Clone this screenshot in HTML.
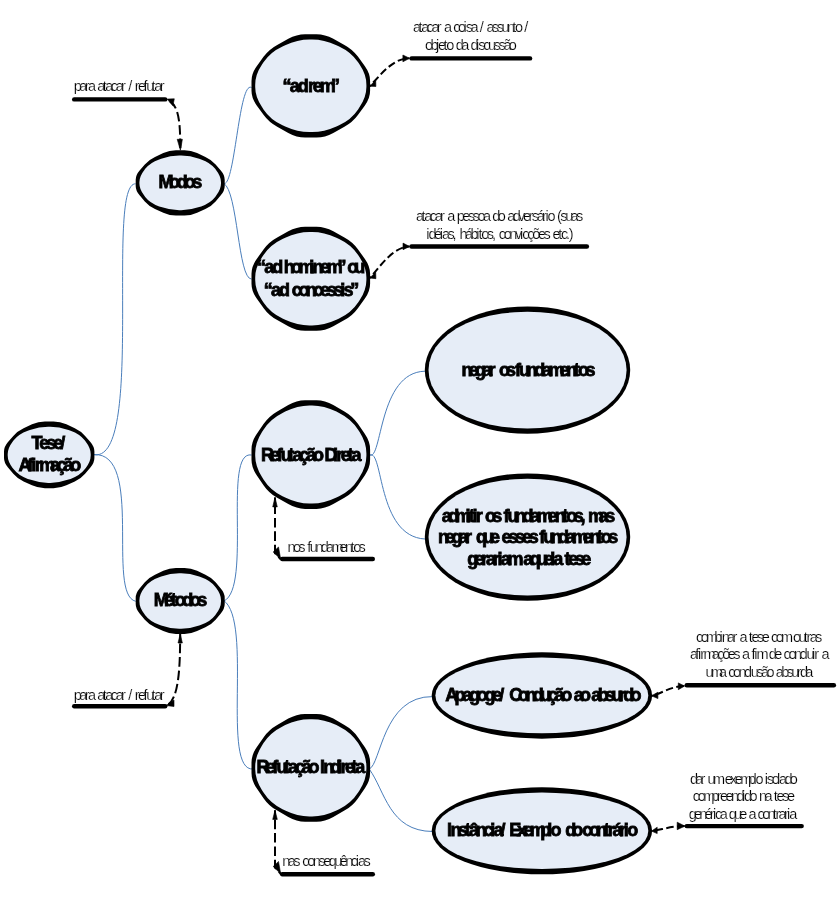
<!DOCTYPE html>
<html lang="pt-BR">
<head>
<meta charset="utf-8">
<title>Tese / Afirmação — modos e métodos de refutação</title>
<style>
html,body{margin:0;padding:0;background:#fff;}
body{width:838px;height:901px;overflow:hidden;}
svg{display:block;}
text{font-family:"Liberation Sans",Arial,Helvetica,sans-serif;fill:#000;font-kerning:none;font-variant-ligatures:none;white-space:pre;}
svg{will-change:transform;}
.tx{filter:grayscale(1);}
.b{font-weight:bold;font-size:18px;stroke:#000;stroke-width:.8px;}
.r{font-weight:normal;font-size:14.5px;stroke:#fff;stroke-width:.18px;}
.no{fill:#000;}
.ni{fill:#e6edf7;}
.c{fill:none;stroke:#4a7ebb;stroke-width:1;}
.d{fill:none;stroke:#000;stroke-width:2;}
.h{fill:#000;stroke:#000;stroke-width:.6;stroke-linejoin:round;}
.bar{stroke:#000;stroke-width:4.4;stroke-linecap:round;}
</style>
</head>
<body>
<svg width="838" height="901" viewBox="0 0 838 901">
<rect width="838" height="901" fill="#fff"/>
<path class="c" d="M93.9,454.7 C145.2,462.9 105.3,183.0 135.6,183.8"/>
<path class="c" d="M93.9,454.6 C144.1,452.1 106.1,594.4 135.7,601.3"/>
<path class="c" d="M223.6,183.5 C234.9,188.1 238.8,79.7 251.6,87.6"/>
<path class="c" d="M223.6,183.3 C237.9,190.8 237.9,279.1 251.6,279.1"/>
<path class="c" d="M224.0,601.0 C252.0,587.2 222.4,449.9 251.6,455.0"/>
<path class="c" d="M223.7,600.5 C253.2,621.4 220.7,771.7 253.2,769.0"/>
<path class="c" d="M369.4,455.0 C382.4,461.7 378.0,372.2 425.0,371.2"/>
<path class="c" d="M369.4,455.0 C383.7,448.1 376.6,536.5 425.0,539.0"/>
<path class="c" d="M369.2,769.0 C381.0,764.6 382.6,695.9 432.7,696.6"/>
<path class="c" d="M369.2,769.0 C385.1,790.8 389.0,831.2 432.7,831.5"/>
<path class="d" d="M167,99.5 C180,105 180,124 180.4,150" stroke-dasharray="9.6 3.8" stroke-dashoffset="10.2"/>
<path class="d" d="M180.2,634 C180,660 180,700 166.5,705.5" stroke-dasharray="9.6 3.8" stroke-dashoffset="3.8"/>
<path class="d" d="M369.7,86.2 C380,76 392,58.3 409.4,58.25" stroke-dasharray="7.5 3.4" stroke-dashoffset="5.6"/>
<path class="d" d="M369.7,278 C379,268 393,246.5 409.4,246.5" stroke-dasharray="7.5 3.4" stroke-dashoffset="5.6"/>
<path class="d" d="M275,497.5 L275,553 L280.7,559.3" stroke-dasharray="9.6 3.8" stroke-dashoffset="6.4"/>
<path class="d" d="M275,810.3 L275,867.5 L280.7,873.8" stroke-dasharray="9.6 3.8" stroke-dashoffset="4.1"/>
<path class="d" d="M651.5,695.8 C662,693.5 670,686.5 684.4,686" stroke-dasharray="7.5 3.4" stroke-dashoffset="6.3"/>
<path class="d" d="M651.5,831.1 C662,830 668,826.3 684.7,826.1" stroke-dasharray="7.5 3.4" stroke-dashoffset="6.7"/>
<polygon class="h" points="167.1,99.1 174.3,98.8 172.9,105.8"/>
<polygon class="h" points="177.2,139.3 182.4,139.3 180.4,150.3"/>
<polygon class="h" points="369.7,86.2 375.7,80.1 375.9,86.5"/>
<polygon class="h" points="402.9,55 409.6,58.3 402.9,61.8"/>
<polygon class="h" points="369.7,278 375.7,272.2 375.9,278.7"/>
<polygon class="h" points="403,243.1 409.6,246.5 403,249.7"/>
<polygon class="h" points="275,497.3 277.3,506.9 272.7,506.9"/>
<polygon class="h" points="280.7,559.3 273.2,552 278.5,547"/>
<polygon class="h" points="275,810.3 277.3,819.4 272.7,819.4"/>
<polygon class="h" points="280.7,873.8 273.2,866.5 278.5,861.5"/>
<polygon class="h" points="180.2,634 182.4,643 178,643"/>
<polygon class="h" points="166,705.5 174,700 174,706.5"/>
<polygon class="h" points="651.5,695.8 657.9,692.2 657.9,698.6"/>
<polygon class="h" points="678.3,682.9 684.6,686 678.3,689.7"/>
<polygon class="h" points="651.5,831.1 657.2,827.2 657.2,833.6"/>
<polygon class="h" points="677.2,822.2 684.9,826.1 677.2,829.7"/>
<path class="no" d="M94.4,451.6 Q94.4,446.8 90.4,442.1 L85.1,435.9 Q81.2,431.2 74.8,428.2 L66.4,424.3 Q60.1,421.4 53.5,421.4 L44.9,421.4 Q38.3,421.4 32.0,424.3 L23.6,428.2 Q17.2,431.2 13.3,435.9 L8.0,442.1 Q4.0,446.8 4.0,451.6 L4.0,458.0 Q4.0,462.8 8.0,467.5 L13.3,473.7 Q17.2,478.4 23.6,481.4 L32.0,485.3 Q38.3,488.2 44.9,488.2 L53.5,488.2 Q60.1,488.2 66.4,485.3 L74.8,481.4 Q81.2,478.4 85.1,473.7 L90.4,467.5 Q94.4,462.8 94.4,458.0Z"/><path class="ni" d="M90.7,454.1 Q90.7,448.1 85.8,441.7 L84.7,440.3 Q79.9,434.0 70.6,430.7 L68.5,430.0 Q59.2,426.7 50.2,426.7 L48.2,426.7 Q39.2,426.7 29.9,430.0 L27.8,430.7 Q18.5,434.0 13.7,440.3 L12.6,441.7 Q7.7,448.1 7.7,454.1 L7.7,455.5 Q7.7,461.5 12.6,467.9 L13.7,469.3 Q18.5,475.6 27.8,478.9 L29.9,479.6 Q39.2,482.9 48.2,482.9 L50.2,482.9 Q59.2,482.9 68.5,479.6 L70.6,478.9 Q79.9,475.6 84.7,469.3 L85.8,467.9 Q90.7,461.5 90.7,455.5Z"/>
<path class="no" d="M224.7,179.8 Q224.7,175.0 220.8,170.5 L215.6,164.4 Q211.7,159.8 205.4,156.9 L197.1,153.1 Q190.9,150.2 184.5,150.2 L175.9,150.2 Q169.5,150.2 163.3,153.1 L155.0,156.9 Q148.7,159.8 144.8,164.4 L139.6,170.5 Q135.7,175.0 135.7,179.8 L135.7,186.0 Q135.7,190.8 139.6,195.3 L144.8,201.4 Q148.7,206.0 155.0,208.9 L163.3,212.7 Q169.5,215.6 175.9,215.6 L184.5,215.6 Q190.9,215.6 197.1,212.7 L205.4,208.9 Q211.7,206.0 215.6,201.4 L220.8,195.3 Q224.7,190.8 224.7,186.0Z"/><path class="ni" d="M221.0,182.2 Q221.0,176.3 216.2,170.2 L215.2,168.8 Q210.4,162.6 201.2,159.4 L199.2,158.7 Q190.0,155.5 181.2,155.5 L179.2,155.5 Q170.4,155.5 161.2,158.7 L159.2,159.4 Q150.0,162.6 145.2,168.8 L144.2,170.2 Q139.4,176.3 139.4,182.2 L139.4,183.6 Q139.4,189.5 144.2,195.6 L145.2,197.0 Q150.0,203.2 159.2,206.4 L161.2,207.1 Q170.4,210.3 179.2,210.3 L181.2,210.3 Q190.0,210.3 199.2,207.1 L201.2,206.4 Q210.4,203.2 215.2,197.0 L216.2,195.6 Q221.0,189.5 221.0,183.6Z"/>
<path class="no" d="M224.7,597.8 Q224.7,593.0 220.8,588.4 L215.6,582.2 Q211.7,577.6 205.4,574.7 L197.1,570.8 Q190.9,567.9 184.5,567.9 L175.9,567.9 Q169.5,567.9 163.3,570.8 L155.0,574.7 Q148.7,577.6 144.8,582.2 L139.6,588.4 Q135.7,593.0 135.7,597.8 L135.7,604.1 Q135.7,608.9 139.6,613.5 L144.8,619.7 Q148.7,624.3 155.0,627.2 L163.3,631.1 Q169.5,634.0 175.9,634.0 L184.5,634.0 Q190.9,634.0 197.1,631.1 L205.4,627.2 Q211.7,624.3 215.6,619.7 L220.8,613.5 Q224.7,608.9 224.7,604.1Z"/><path class="ni" d="M221.0,600.3 Q221.0,594.3 216.2,588.1 L215.2,586.7 Q210.4,580.4 201.2,577.2 L199.2,576.5 Q190.0,573.2 181.2,573.2 L179.2,573.2 Q170.4,573.2 161.2,576.5 L159.2,577.2 Q150.0,580.4 145.2,586.7 L144.2,588.1 Q139.4,594.3 139.4,600.3 L139.4,601.6 Q139.4,607.6 144.2,613.8 L145.2,615.2 Q150.0,621.5 159.2,624.7 L161.2,625.4 Q170.4,628.7 179.2,628.7 L181.2,628.7 Q190.0,628.7 199.2,625.4 L201.2,624.7 Q210.4,621.5 215.2,615.2 L216.2,613.8 Q221.0,607.6 221.0,601.6Z"/>
<path class="no" d="M370.1,80.9 Q370.1,73.5 364.9,66.3 L357.9,56.6 Q352.7,49.4 344.4,44.9 L333.3,38.8 Q325.0,34.3 316.5,34.3 L305.1,34.3 Q296.6,34.3 288.3,38.8 L277.2,44.9 Q268.9,49.4 263.7,56.6 L256.7,66.3 Q251.5,73.5 251.5,80.9 L251.5,90.8 Q251.5,98.2 256.7,105.4 L263.7,115.1 Q268.9,122.3 277.2,126.8 L288.3,132.9 Q296.6,137.4 305.1,137.4 L316.5,137.4 Q325.0,137.4 333.3,132.9 L344.4,126.8 Q352.7,122.3 357.9,115.1 L364.9,105.4 Q370.1,98.2 370.1,90.8Z"/><path class="ni" d="M366.4,84.7 Q366.4,74.7 359.6,64.6 L358.1,62.3 Q351.3,52.1 339.1,46.5 L336.4,45.2 Q324.1,39.6 312.1,39.6 L309.5,39.6 Q297.5,39.6 285.2,45.2 L282.5,46.5 Q270.3,52.1 263.5,62.3 L262.0,64.6 Q255.2,74.7 255.2,84.7 L255.2,87.0 Q255.2,97.0 262.0,107.1 L263.5,109.4 Q270.3,119.6 282.5,125.2 L285.2,126.5 Q297.5,132.1 309.5,132.1 L312.1,132.1 Q324.1,132.1 336.4,126.5 L339.1,125.2 Q351.3,119.6 358.1,109.4 L359.6,107.1 Q366.4,97.0 366.4,87.0Z"/>
<path class="no" d="M370.1,273.8 Q370.1,266.3 364.9,259.0 L357.9,249.2 Q352.7,241.9 344.4,237.4 L333.3,231.3 Q325.0,226.7 316.5,226.7 L305.1,226.7 Q296.6,226.7 288.3,231.3 L277.2,237.4 Q268.9,241.9 263.7,249.2 L256.7,259.0 Q251.5,266.3 251.5,273.8 L251.5,283.7 Q251.5,291.2 256.7,298.5 L263.7,308.3 Q268.9,315.6 277.2,320.1 L288.3,326.2 Q296.6,330.8 305.1,330.8 L316.5,330.8 Q325.0,330.8 333.3,326.2 L344.4,320.1 Q352.7,315.6 357.9,308.3 L364.9,298.5 Q370.1,291.2 370.1,283.7Z"/><path class="ni" d="M366.4,277.6 Q366.4,267.5 359.6,257.2 L358.1,255.0 Q351.3,244.7 339.1,239.0 L336.4,237.7 Q324.1,232.0 312.1,232.0 L309.5,232.0 Q297.5,232.0 285.2,237.7 L282.5,239.0 Q270.3,244.7 263.5,255.0 L262.0,257.2 Q255.2,267.5 255.2,277.6 L255.2,279.9 Q255.2,290.0 262.0,300.3 L263.5,302.5 Q270.3,312.8 282.5,318.5 L285.2,319.8 Q297.5,325.5 309.5,325.5 L312.1,325.5 Q324.1,325.5 336.4,319.8 L339.1,318.5 Q351.3,312.8 358.1,302.5 L359.6,300.3 Q366.4,290.0 366.4,279.9Z"/>
<path class="no" d="M370.1,449.4 Q370.1,441.6 364.9,434.0 L357.9,423.8 Q352.7,416.2 344.4,411.4 L333.3,405.1 Q325.0,400.3 316.5,400.3 L305.1,400.3 Q296.6,400.3 288.3,405.1 L277.2,411.4 Q268.9,416.2 263.7,423.8 L256.7,434.0 Q251.5,441.6 251.5,449.4 L251.5,459.8 Q251.5,467.6 256.7,475.2 L263.7,485.4 Q268.9,493.0 277.2,497.8 L288.3,504.1 Q296.6,508.9 305.1,508.9 L316.5,508.9 Q325.0,508.9 333.3,504.1 L344.4,497.8 Q352.7,493.0 357.9,485.4 L364.9,475.2 Q370.1,467.6 370.1,459.8Z"/><path class="ni" d="M366.4,453.4 Q366.4,442.8 359.6,432.1 L358.1,429.7 Q351.3,418.9 339.1,412.9 L336.4,411.6 Q324.1,405.6 312.1,405.6 L309.5,405.6 Q297.5,405.6 285.2,411.6 L282.5,412.9 Q270.3,418.9 263.5,429.7 L262.0,432.1 Q255.2,442.8 255.2,453.4 L255.2,455.8 Q255.2,466.4 262.0,477.1 L263.5,479.5 Q270.3,490.3 282.5,496.3 L285.2,497.6 Q297.5,503.6 309.5,503.6 L312.1,503.6 Q324.1,503.6 336.4,497.6 L339.1,496.3 Q351.3,490.3 358.1,479.5 L359.6,477.1 Q366.4,466.4 366.4,455.8Z"/>
<path class="no" d="M370.1,762.6 Q370.1,754.9 364.9,747.3 L357.9,737.2 Q352.7,729.7 344.4,725.0 L333.3,718.6 Q325.0,713.9 316.5,713.9 L305.1,713.9 Q296.6,713.9 288.3,718.6 L277.2,725.0 Q268.9,729.7 263.7,737.2 L256.7,747.3 Q251.5,754.9 251.5,762.6 L251.5,773.0 Q251.5,780.7 256.7,788.3 L263.7,798.4 Q268.9,805.9 277.2,810.6 L288.3,817.0 Q296.6,821.7 305.1,821.7 L316.5,821.7 Q325.0,821.7 333.3,817.0 L344.4,810.6 Q352.7,805.9 357.9,798.4 L364.9,788.3 Q370.1,780.7 370.1,773.0Z"/><path class="ni" d="M366.4,766.6 Q366.4,756.1 359.6,745.4 L358.1,743.1 Q351.3,732.4 339.1,726.4 L336.4,725.1 Q324.1,719.2 312.1,719.2 L309.5,719.2 Q297.5,719.2 285.2,725.1 L282.5,726.4 Q270.3,732.4 263.5,743.1 L262.0,745.4 Q255.2,756.1 255.2,766.6 L255.2,769.0 Q255.2,779.5 262.0,790.2 L263.5,792.5 Q270.3,803.2 282.5,809.2 L285.2,810.5 Q297.5,816.4 309.5,816.4 L312.1,816.4 Q324.1,816.4 336.4,810.5 L339.1,809.2 Q351.3,803.2 358.1,792.5 L359.6,790.2 Q366.4,779.5 366.4,769.0Z"/>
<ellipse class="no" cx="527.5" cy="370.1" rx="102.7" ry="63.7"/><path class="ni" d="M626.6,370.1 L625.8,362.5 L623.5,354.9 L619.6,347.6 L614.0,340.7 L606.9,334.2 L598.4,328.3 L588.5,323.3 L577.5,319.1 L565.7,315.8 L553.3,313.5 L540.5,312.2 L527.5,311.7 L514.6,312.2 L501.8,313.5 L489.4,315.8 L477.6,319.1 L466.6,323.3 L456.7,328.3 L448.2,334.2 L441.1,340.7 L435.5,347.6 L431.6,354.9 L429.3,362.5 L428.5,370.1 L429.3,377.7 L431.6,385.3 L435.5,392.6 L441.1,399.5 L448.2,406.0 L456.7,411.9 L466.6,416.9 L477.6,421.1 L489.4,424.4 L501.8,426.7 L514.6,428.0 L527.5,428.5 L540.5,428.0 L553.3,426.7 L565.7,424.4 L577.5,421.1 L588.5,416.9 L598.4,411.9 L606.9,406.0 L614.0,399.5 L619.6,392.6 L623.5,385.3 L625.8,377.7Z"/>
<ellipse class="no" cx="527.5" cy="537.1" rx="102.7" ry="63.7"/><path class="ni" d="M626.6,537.1 L625.8,529.5 L623.5,521.9 L619.6,514.6 L614.0,507.7 L606.9,501.2 L598.4,495.3 L588.5,490.3 L577.5,486.1 L565.7,482.8 L553.3,480.5 L540.5,479.2 L527.5,478.7 L514.6,479.2 L501.8,480.5 L489.4,482.8 L477.6,486.1 L466.6,490.3 L456.7,495.3 L448.2,501.2 L441.1,507.7 L435.5,514.6 L431.6,521.9 L429.3,529.5 L428.5,537.1 L429.3,544.7 L431.6,552.3 L435.5,559.6 L441.1,566.5 L448.2,573.0 L456.7,578.9 L466.6,583.9 L477.6,588.1 L489.4,591.4 L501.8,593.7 L514.6,595.0 L527.5,595.5 L540.5,595.0 L553.3,593.7 L565.7,591.4 L577.5,588.1 L588.5,583.9 L598.4,578.9 L606.9,573.0 L614.0,566.5 L619.6,559.6 L623.5,552.3 L625.8,544.7Z"/>
<ellipse class="no" cx="541.9" cy="695.5" rx="110.2" ry="43.2"/><path class="ni" d="M648.3,695.5 L647.5,690.5 L645.0,685.6 L640.8,680.9 L634.8,676.4 L627.2,672.2 L618.0,668.4 L607.3,665.1 L595.5,662.4 L582.8,660.3 L569.5,658.8 L555.8,657.9 L541.9,657.6 L527.9,657.9 L514.2,658.8 L500.9,660.3 L488.2,662.4 L476.4,665.1 L465.7,668.4 L456.5,672.2 L448.9,676.4 L442.9,680.9 L438.7,685.6 L436.2,690.5 L435.4,695.5 L436.2,700.4 L438.7,705.3 L442.9,710.0 L448.9,714.5 L456.5,718.7 L465.7,722.5 L476.4,725.8 L488.2,728.5 L500.9,730.6 L514.2,732.1 L527.9,733.0 L541.9,733.3 L555.8,733.0 L569.5,732.1 L582.8,730.6 L595.5,728.5 L607.3,725.8 L618.0,722.5 L627.2,718.7 L634.8,714.5 L640.8,710.0 L645.0,705.3 L647.5,700.4Z"/>
<ellipse class="no" cx="541.9" cy="830.8" rx="110.2" ry="43.5"/><path class="ni" d="M648.3,830.8 L647.5,825.8 L645.0,820.8 L640.8,816.1 L634.8,811.5 L627.2,807.3 L618.0,803.5 L607.3,800.2 L595.5,797.4 L582.8,795.3 L569.5,793.8 L555.8,792.9 L541.9,792.6 L527.9,792.9 L514.2,793.8 L500.9,795.3 L488.2,797.4 L476.4,800.2 L465.7,803.5 L456.5,807.3 L448.9,811.5 L442.9,816.1 L438.7,820.8 L436.2,825.8 L435.4,830.8 L436.2,835.7 L438.7,840.7 L442.9,845.4 L448.9,850.0 L456.5,854.2 L465.7,858.0 L476.4,861.3 L488.2,864.1 L500.9,866.2 L514.2,867.7 L527.9,868.6 L541.9,868.9 L555.8,868.6 L569.5,867.7 L582.8,866.2 L595.5,864.1 L607.3,861.3 L618.0,858.0 L627.2,854.2 L634.8,850.0 L640.8,845.4 L645.0,840.7 L647.5,835.7Z"/>
<line class="bar" x1="74.2" y1="99.4" x2="165.2" y2="99.4"/>
<line class="bar" x1="74.2" y1="706.3" x2="165.2" y2="706.3"/>
<line class="bar" x1="411.6" y1="58.4" x2="530.1" y2="58.4"/>
<line class="bar" x1="411.5" y1="246.5" x2="586.9" y2="246.5"/>
<line class="bar" x1="282.2" y1="559.0" x2="372.8" y2="559.0"/>
<line class="bar" x1="282.2" y1="874.2" x2="372.8" y2="874.2"/>
<line class="bar" x1="686.7" y1="685.2" x2="833.9" y2="685.2"/>
<line class="bar" x1="686.7" y1="826.1" x2="801.7" y2="826.1"/>
<g class="tx">
<text class="b" x="31.50 39.19 46.20 53.21 60.22" y="448.9">Tese/</text>
<text class="b" x="18.55 27.27 31.29 34.64 39.34 50.07 56.78 63.50 70.21" y="470.8">Afirmação</text>
<text class="b" x="158.60 169.09 176.79 184.48 192.18" y="188.3">Modos</text>
<text class="b" x="153.80 163.97 170.77 174.84 182.30 189.76 197.23" y="606.2">Métodos</text>
<text class="b" x="282.57 289.77 297.78 306.25 307.91 312.82 319.82 331.03" y="91.5">“ad rem”</text>
<text class="b" x="256.97 264.17 272.18 281.31 283.64 291.05 298.46 309.24 312.61 320.01 326.76 337.54 344.45 347.30 354.33" y="272.9">“ad hominem” ou</text>
<text class="b" x="263.77 270.97 278.98 288.74 291.70 298.43 305.82 313.22 319.95 326.68 333.41 340.14 343.50 350.24" y="295.6">“ad concessis”</text>
<text class="b" x="261.00 269.89 276.74 280.84 288.36 292.46 299.31 306.16 313.01 321.46 324.40 332.95 336.24 340.85 347.43 351.38" y="461.0">Refutação Direta</text>
<text class="b" x="256.60 265.49 272.34 276.44 283.96 288.06 294.91 301.76 308.61 317.06 320.00 323.20 330.23 337.27 340.47 344.95 351.36 355.20" y="772.9">Refutação Indireta</text>
<text class="b" x="461.61 468.65 475.06 482.09 488.50 494.99 499.00 506.03 512.72 514.99 519.09 526.61 534.13 541.65 548.50 559.44 566.29 573.81 577.91 585.43" y="376.3">negar os fundamentos</text>
<text class="b" x="441.87 448.28 455.32 465.56 468.76 472.60 475.80 481.69 485.10 492.23 500.06 503.39 507.49 515.00 522.51 530.03 536.87 547.80 554.64 562.15 566.25 573.76 580.60 584.97 587.91 598.50 605.13" y="521.8">admitir os fundamentos, mas</text>
<text class="b" x="438.01 445.05 451.46 458.49 464.90 471.67 475.96 483.00 490.04 497.92 501.40 508.25 515.11 521.97 528.83 536.49 539.29 543.30 550.66 558.02 565.38 572.08 582.80 589.50 596.86 600.87 608.23" y="543.2">negar que esses fundamentos</text>
<text class="b" x="467.16 474.55 481.28 485.99 492.71 497.42 500.78 507.51 519.77 523.27 529.68 536.72 543.75 550.16 553.36 561.12 564.48 568.32 574.72 581.13" y="565.0">gerariam aquela tese</text>
<text class="b" x="445.35 454.45 462.15 469.16 476.85 484.55 492.24 499.25 504.96 509.16 517.95 525.38 532.81 540.24 547.68 554.44 561.21 570.16 573.67 580.08 588.19 591.27 597.82 605.01 611.55 618.74 623.32 630.51" y="701.3">Apagoge/ Condução ao absurdo</text>
<text class="b" x="447.00 450.42 457.96 464.82 468.93 475.79 483.33 490.19 493.61 500.47 505.60 509.30 517.00 523.43 529.86 540.14 547.20 550.41 560.31 565.16 572.20 579.77 582.30 589.01 596.37 603.74 607.76 612.45 619.16 623.86 627.21" y="836.3">Instância/ Exemplo do contrário</text>
<text class="r" x="73.87 79.28 84.69 87.93 93.35 97.25 102.67 105.37 110.78 115.65 121.07 124.31 128.21 130.92 134.82 138.06 143.48 146.18 151.59 154.30 159.71" y="91.0">para atacar / refutar</text>
<text class="r" x="73.87 79.28 84.69 87.93 93.35 97.25 102.67 105.37 110.78 115.65 121.07 124.31 128.21 130.92 134.82 138.06 143.48 146.18 151.59 154.30 159.71" y="699.9">para atacar / refutar</text>
<text class="r" x="413.08 418.48 421.18 426.57 431.43 436.82 440.05 443.95 449.35 453.24 458.10 463.49 465.65 470.50 475.90 479.79 482.49 486.39 491.78 496.64 501.49 506.89 512.28 514.98 520.38 524.27" y="32.0">atacar a coisa / assunto /</text>
<text class="r" x="424.99 430.46 435.93 438.11 443.58 446.31 451.78 455.72 461.18 466.65 470.59 476.05 478.24 483.16 488.07 493.54 498.46 503.38 508.84" y="50.0">objeto da discussão</text>
<text class="r" x="416.08 421.55 424.28 429.74 434.65 440.11 443.39 447.32 452.78 456.71 462.17 467.63 472.55 477.46 482.92 488.38 492.31 497.78 503.24 507.17 512.63 518.10 523.01 528.47 531.74 536.65 542.12 545.39 547.57 553.04 556.96 560.24 565.15 570.61 576.07" y="220.8">atacar a pessoa do adversário (suas</text>
<text class="r" x="426.23 428.47 434.08 439.69 441.93 447.54 452.58 455.39 459.39 465.00 470.61 476.22 478.46 481.26 486.87 491.91 494.71 498.72 503.76 509.37 514.98 520.02 522.26 527.31 532.35 537.96 543.57 548.61 552.61 558.22 561.03 566.07 568.87" y="238.5">idéias, hábitos, convicções etc.)</text>
<text class="r" x="287.54 292.95 298.37 303.24 307.14 309.85 315.26 320.68 326.09 331.51 339.62 345.04 350.45 353.16 358.57" y="552.0">nos fundamentos</text>
<text class="r" x="282.24 287.77 293.29 298.26 302.23 307.20 312.73 318.25 323.22 328.75 334.28 339.81 345.34 350.87 355.84 358.05 363.57" y="866.0">nas consequências</text>
<text class="r" x="695.88 700.72 706.09 714.14 719.51 721.66 727.03 732.41 735.62 739.51 744.88 748.77 751.45 756.82 761.65 767.03 770.91 775.74 781.12 789.17 793.05 798.42 803.80 806.48 809.70 815.07" y="642.0">combinar a tese com outras</text>
<text class="r" x="689.88 695.37 698.12 700.31 703.60 711.82 717.31 722.25 727.74 733.23 738.17 742.11 747.60 751.54 754.29 756.48 764.71 768.65 774.14 779.63 783.57 788.51 794.00 799.49 804.43 806.62 812.11 814.31 817.59 821.54" y="659.4">afirmações a fim de concluir a</text>
<text class="r" x="705.56 710.94 719.00 724.39 728.27 733.11 738.50 743.88 748.72 750.87 756.25 761.09 766.47 771.85 775.74 781.13 786.51 791.35 796.73 799.95 805.34" y="676.6">uma conclusão absurda</text>
<text class="r" x="689.89 695.21 700.53 703.72 707.58 712.90 720.87 724.73 730.05 734.83 740.15 748.12 753.44 755.57 760.89 764.75 766.87 771.66 776.98 779.10 784.42 789.74" y="783.9">dar um exemplo isolado</text>
<text class="r" x="692.78 697.69 703.15 711.33 716.79 720.06 725.52 730.98 736.44 741.90 744.09 749.55 755.01 758.93 764.39 769.85 773.78 776.51 781.97 786.88" y="801.0">compreendido na tese</text>
<text class="r" x="688.69 693.96 699.22 704.49 709.75 712.91 715.01 719.74 725.01 728.84 734.11 739.37 744.64 748.47 753.73 757.56 762.30 767.56 772.83 775.46 778.61 783.88 787.03 789.14" y="818.5">genérica que a contraria</text>
</g>
</svg>
</body>
</html>
